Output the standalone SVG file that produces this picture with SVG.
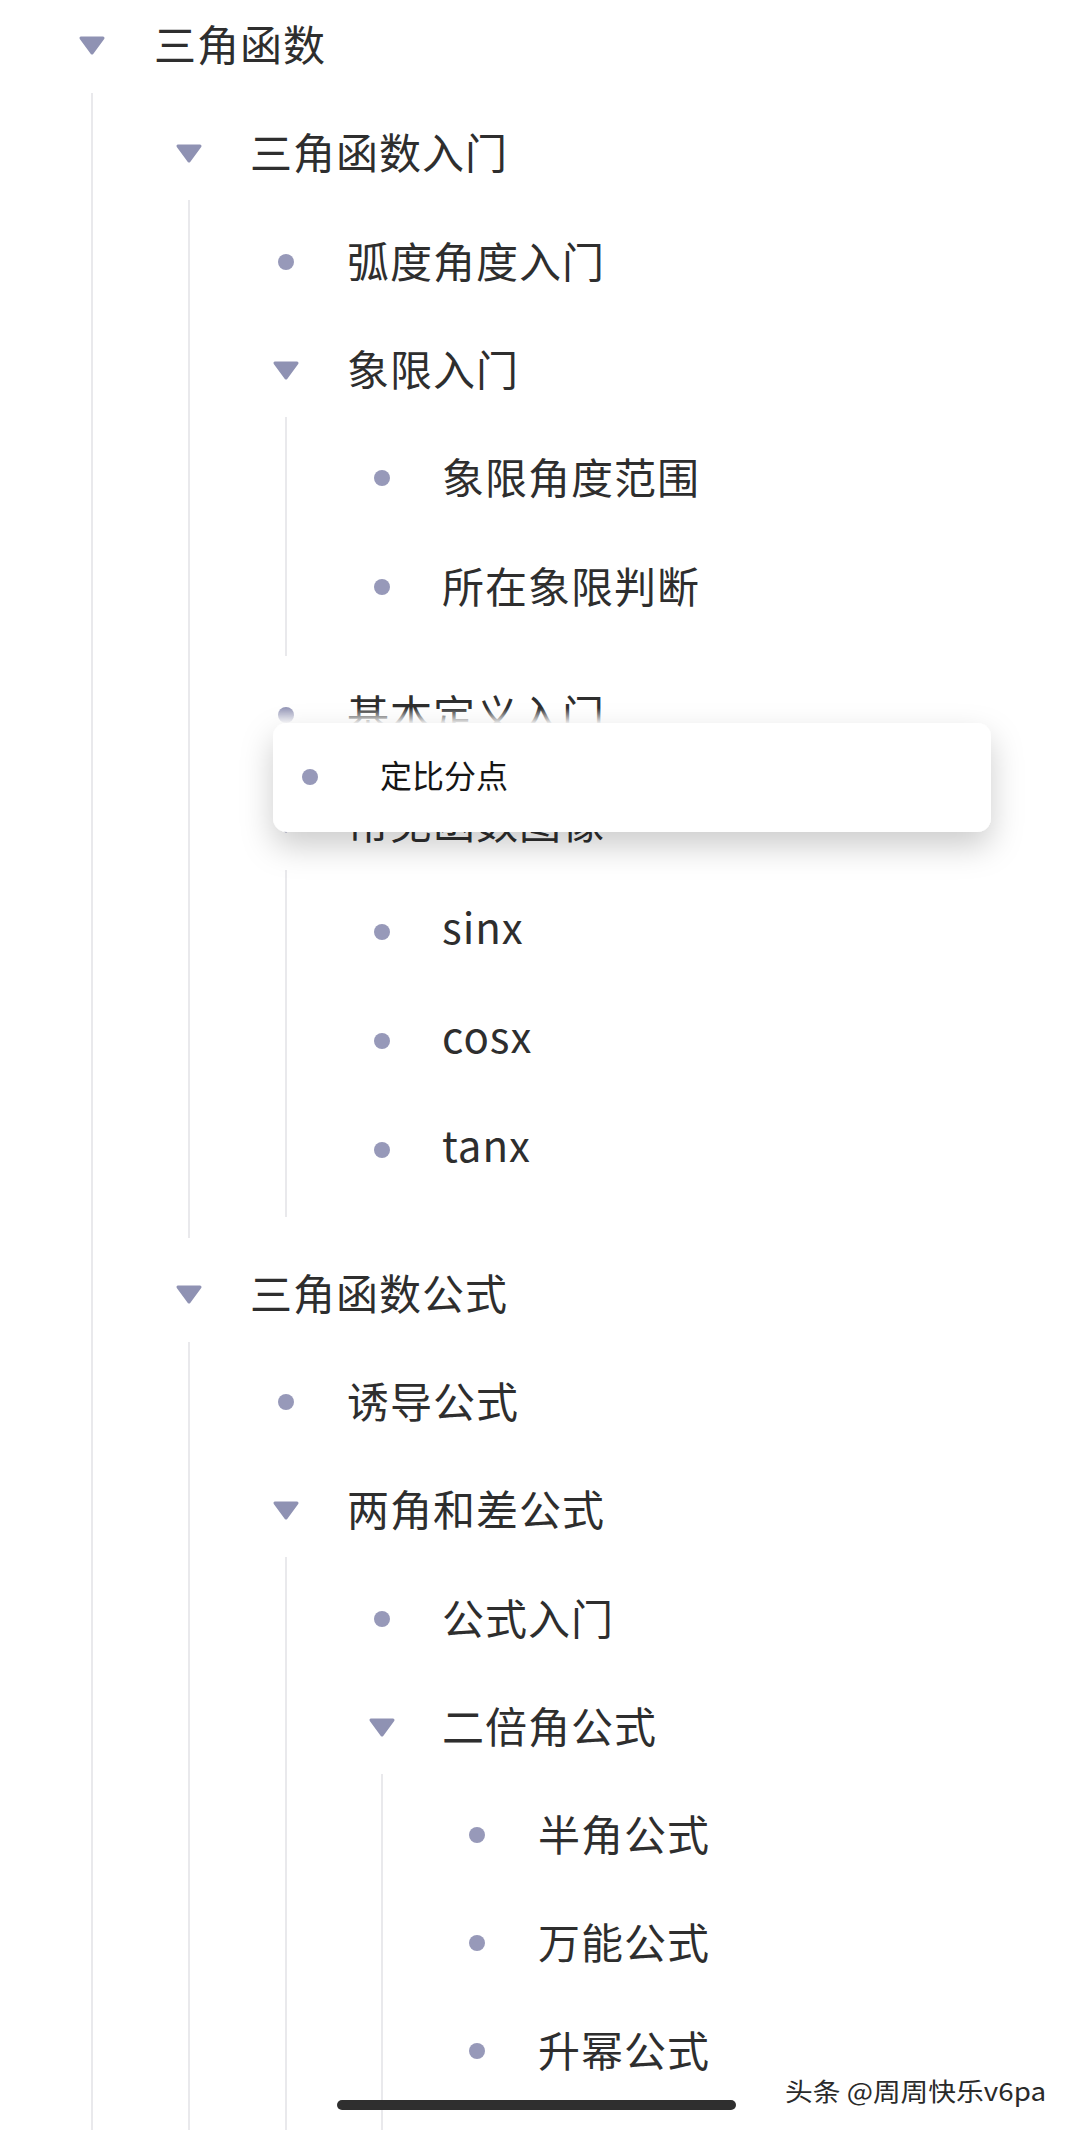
<svg xmlns="http://www.w3.org/2000/svg" width="1071" height="2130" viewBox="0 0 1071 2130">
<style>
.t{font-family:"Noto Sans CJK SC","Noto Sans",sans-serif;font-size:42px;fill:#2e2e2e;letter-spacing:1px}
.tri{fill:#8f92b3;stroke:#8f92b3;stroke-width:3;stroke-linejoin:round}
.dot{fill:#9799b9}
.g{stroke:#e9e9ec;stroke-width:2;fill:none}
</style>
<defs>
<filter id="sh" x="-10%" y="-60%" width="120%" height="240%">
<feDropShadow dx="0" dy="14" stdDeviation="16" flood-color="#000" flood-opacity="0.2"/>
</filter>
<linearGradient id="fade" x1="0" y1="0" x2="0" y2="1">
<stop offset="0" stop-color="#fff" stop-opacity="0"/>
<stop offset="1" stop-color="#fff" stop-opacity="1"/>
</linearGradient>
</defs>
<rect width="1071" height="2130" fill="#ffffff"/>
<g id="connectors">
<line class="g" x1="92" y1="93" x2="92" y2="2130"/>
<line class="g" x1="189" y1="200" x2="189" y2="1238"/>
<line class="g" x1="286" y1="417" x2="286" y2="656"/>
<line class="g" x1="286" y1="870" x2="286" y2="1217"/>
<line class="g" x1="189" y1="1342" x2="189" y2="2130"/>
<line class="g" x1="286" y1="1557" x2="286" y2="2130"/>
<line class="g" x1="382" y1="1774" x2="382" y2="2130"/>
</g>
<g id="n0"><polygon class="tri" points="81,38 103,38 92,53"/><text class="t" x="154" y="61">三角函数</text></g>
<g id="n1"><polygon class="tri" points="178,146 200,146 189,161"/><text class="t" x="250" y="169">三角函数入门</text></g>
<g id="n2"><circle class="dot" cx="286" cy="262" r="8"/><text class="t" x="347" y="278">弧度角度入门</text></g>
<g id="n3"><polygon class="tri" points="275,363 297,363 286,378"/><text class="t" x="347" y="386">象限入门</text></g>
<g id="n4"><circle class="dot" cx="382" cy="478" r="8"/><text class="t" x="442" y="494">象限角度范围</text></g>
<g id="n5"><circle class="dot" cx="382" cy="587" r="8"/><text class="t" x="442" y="603">所在象限判断</text></g>
<g id="n6"><circle class="dot" cx="286" cy="715" r="8"/><text class="t" x="347" y="731">基本定义入门</text></g>
<g id="n7"><polygon class="tri" points="275,816 297,816 286,831"/><text class="t" x="347" y="839">常见函数图像</text></g>
<g id="n8"><circle class="dot" cx="382" cy="932" r="8"/><text class="t" x="442" y="944">sinx</text></g>
<g id="n9"><circle class="dot" cx="382" cy="1041" r="8"/><text class="t" x="442" y="1053">cosx</text></g>
<g id="n10"><circle class="dot" cx="382" cy="1150" r="8"/><text class="t" x="442" y="1162">tanx</text></g>
<g id="n11"><polygon class="tri" points="178,1287 200,1287 189,1302"/><text class="t" x="250" y="1310">三角函数公式</text></g>
<g id="n12"><circle class="dot" cx="286" cy="1402" r="8"/><text class="t" x="347" y="1418">诱导公式</text></g>
<g id="n13"><polygon class="tri" points="275,1503 297,1503 286,1518"/><text class="t" x="347" y="1526">两角和差公式</text></g>
<g id="n14"><circle class="dot" cx="382" cy="1619" r="8"/><text class="t" x="442" y="1635">公式入门</text></g>
<g id="n15"><polygon class="tri" points="371,1720 393,1720 382,1735"/><text class="t" x="442" y="1743">二倍角公式</text></g>
<g id="n16"><circle class="dot" cx="477" cy="1835" r="8"/><text class="t" x="538" y="1851">半角公式</text></g>
<g id="n17"><circle class="dot" cx="477" cy="1943" r="8"/><text class="t" x="538" y="1959">万能公式</text></g>
<g id="n18"><circle class="dot" cx="477" cy="2051" r="8"/><text class="t" x="538" y="2067">升幂公式</text></g>
<g id="popup">
<rect x="260" y="708" width="745" height="16" fill="url(#fade)"/>
<rect x="273" y="723" width="718" height="109" rx="14" fill="#ffffff" filter="url(#sh)"/>
<circle class="dot" cx="310" cy="777" r="8"/>
<text x="380" y="788" style="font-family:'Noto Sans CJK SC','Noto Sans',sans-serif;font-size:32px;fill:#151515">定比分点</text>
</g>
<g id="home-bar"><rect x="337" y="2100" width="399" height="10" rx="5" fill="#2f2f2f"/></g>
<g id="watermark"><text x="785" y="2101" style="font-family:'Noto Sans CJK SC','Noto Sans',sans-serif;font-size:25px;fill:#2a2a2a;stroke:#ffffff;stroke-width:0.6;paint-order:stroke" textLength="261" lengthAdjust="spacingAndGlyphs">头条 @周周快乐v6pa</text></g>
</svg>
